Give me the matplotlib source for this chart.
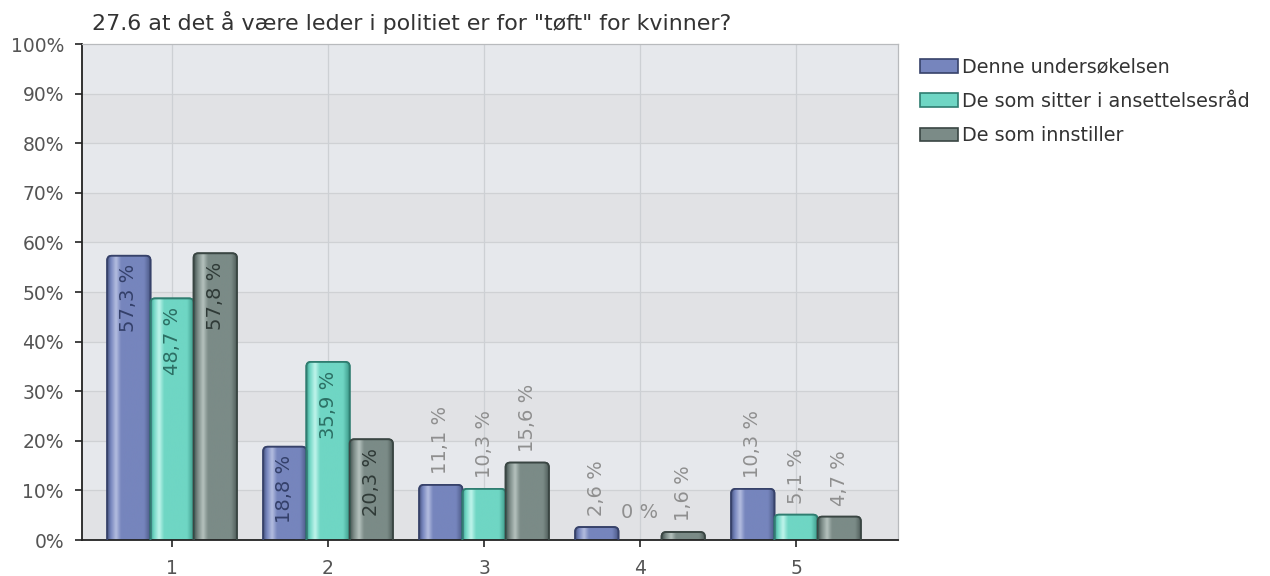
import numpy as np
import matplotlib
matplotlib.use("Agg")
import matplotlib.pyplot as plt
from matplotlib.colors import LinearSegmentedColormap
from matplotlib.patches import Patch, FancyBboxPatch

plt.rcParams['font.family'] = ['DejaVu Sans']

title = '27.6 at det å være leder i politiet er for "tøft" for kvinner?'
categories = ['1', '2', '3', '4', '5']
series_names = ['Denne undersøkelsen', 'De som sitter i ansettelsesråd', 'De som innstiller']
denne = [57.3, 18.8, 11.1, 2.6, 10.3]
ansett = [48.7, 35.9, 10.3, 0.0, 5.1]
innstiller = [57.8, 20.3, 15.6, 1.6, 4.7]
series_values = [denne, ansett, innstiller]
y_ticks = [0, 10, 20, 30, 40, 50, 60, 70, 80, 90, 100]

fills = ['#7685bd', '#6fd6c4', '#7b8b87']
highs = ['#b4bee0', '#c0f5ec', '#b6c2be']
darks = ['#4a5785', '#3d9a8a', '#4b5956']
edges = ['#37426a', '#2f7d70', '#3a4643']
label_in = ['#34406a', '#2c6f64', '#2f3a37']

fig = plt.figure(figsize=(12.7, 5.76), dpi=100)
ax = fig.add_axes([0.0646, 0.0625, 0.6425, 0.8611])

x = np.arange(1, len(categories) + 1)
w = 0.277
ax.set_xlim(0.423, 5.654)
ax.set_ylim(0, 100)

ax_w_px = 0.6425 * 1270
ax_h_px = 0.8611 * 576
px_x = ax_w_px / (5.654 - 0.423)
px_y = ax_h_px / 100.0
aspect = px_x / px_y

for i in range(10):
    ax.axhspan(i * 10, i * 10 + 10, color='#e6e8ec' if i % 2 == 1 else '#e1e2e5', zorder=0, lw=0)
for yt in y_ticks[1:-1]:
    ax.axhline(yt, color='#cfd1d4', lw=0.9, zorder=0.5)
for xc in x:
    ax.axvline(xc, color='#cdd0d4', lw=0.9, zorder=0.5)

lab_fs = 14
for s, vals in enumerate(series_values):
    pos = x + (s - 1) * w
    bars = ax.bar(pos, vals, width=w, color=fills[s], zorder=2)
    cmap = LinearSegmentedColormap.from_list(
        'g%d' % s, [(0, darks[s]), (0.08, fills[s]), (0.2, highs[s]), (0.32, fills[s]), (0.85, fills[s]), (1, darks[s])])
    grad = np.linspace(0, 1, 64).reshape(1, -1)
    for b, v in zip(bars, vals):
        b.set_visible(False)
        cx = b.get_x() + b.get_width() / 2
        if v > 0:
            r = 4.5 / px_x
            base = -8 / px_y
            rp = FancyBboxPatch((b.get_x(), base), b.get_width(), v - base,
                                boxstyle='round,pad=0,rounding_size=%f' % r, mutation_aspect=aspect,
                                facecolor=fills[s], edgecolor=edges[s], linewidth=1.3, zorder=2)
            ax.add_patch(rp)
            im = ax.imshow(grad, cmap=cmap, aspect='auto', zorder=2.5,
                           extent=[b.get_x(), b.get_x() + b.get_width(), 0, v], interpolation='bicubic')
            im.set_clip_path(rp)
            rp2 = FancyBboxPatch((b.get_x(), base), b.get_width(), v - base,
                                 boxstyle='round,pad=0,rounding_size=%f' % r, mutation_aspect=aspect,
                                 fill=False, edgecolor=edges[s], linewidth=1.3, zorder=3)
            ax.add_patch(rp2)
        txt = ('%.1f' % v).replace('.', ',') + ' %'
        if v == 0:
            ax.annotate('0 %', (cx, v), xytext=(0, 13), textcoords='offset points',
                        ha='center', va='bottom', fontsize=lab_fs, color='#8f8f8f', zorder=4)
        elif v >= 17:
            ax.annotate(txt, (cx, v), xytext=(0, -6), textcoords='offset points',
                        rotation=90, ha='center', va='top', fontsize=lab_fs, color=label_in[s], zorder=4)
        else:
            ax.annotate(txt, (cx, v), xytext=(0, 8), textcoords='offset points',
                        rotation=90, ha='center', va='bottom', fontsize=lab_fs, color='#8f8f8f', zorder=4)

ax.set_xticks(x)
ax.set_xticklabels(categories)
ax.set_yticks(y_ticks)
ax.set_yticklabels(['%d%%' % t for t in y_ticks])
ax.tick_params(axis='both', direction='out', length=5, width=1.2, color='#222222',
               labelsize=13.5, labelcolor='#555555', pad=8)
ax.tick_params(axis='x', pad=9)
for side in ['left', 'bottom']:
    ax.spines[side].set_color('#222222')
    ax.spines[side].set_linewidth(1.3)
for side in ['top', 'right']:
    ax.spines[side].set_color('#b8babd')
    ax.spines[side].set_linewidth(0.9)

fig.text(92 / 1270, 1 - 22 / 576, title, fontsize=15.9, color='#333333', ha='left', va='center')

handles = [Patch(facecolor=fills[i], edgecolor=edges[i], linewidth=1.2) for i in range(3)]
fig.legend(handles, series_names, loc='upper left', bbox_to_anchor=(0.7105, 0.930), frameon=False,
           fontsize=13.8, labelcolor='#333333', handlelength=2.0, handleheight=0.7, handletextpad=0.2,
           labelspacing=0.8)

fig.savefig('out.png', dpi=100)
